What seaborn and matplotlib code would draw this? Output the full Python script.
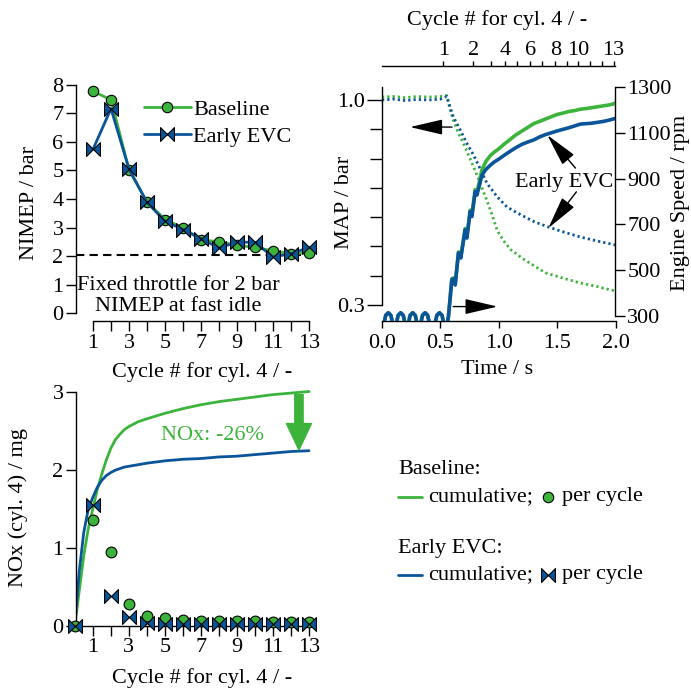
import matplotlib
matplotlib.use("Agg")
import matplotlib.pyplot as plt
from matplotlib.path import Path
import seaborn as sns

# ---------------- data ----------------
cycles = list(range(1, 14))
nimep_baseline = [7.78, 7.48, 5.03, 3.90, 3.28, 2.99, 2.57, 2.50, 2.38, 2.30, 2.18, 2.08, 2.12]
nimep_early_evc = [5.74, 7.17, 5.05, 3.88, 3.22, 2.93, 2.61, 2.28, 2.49, 2.48, 1.97, 2.08, 2.30]
nimep_target = 2.05

# manifold pressure (bar) vs time (s)
map_time_baseline = [0.0, 0.1, 0.2, 0.3, 0.4, 0.5, 0.555, 0.584, 0.61, 0.655, 0.698, 0.741,
                     0.784, 0.813, 0.856, 0.9, 0.95, 0.985, 1.04, 1.1, 1.2, 1.27, 1.4,
                     1.556, 1.7, 1.843, 1.92, 2.0]
map_baseline = [1.010, 1.012, 1.008, 1.012, 1.010, 1.012, 1.015, 0.966, 0.932, 0.886, 0.852,
                0.812, 0.772, 0.744, 0.700, 0.655, 0.600, 0.556, 0.520, 0.490, 0.460, 0.442,
                0.410, 0.391, 0.375, 0.363, 0.355, 0.348]
map_time_early_evc = [0.0, 0.1, 0.2, 0.3, 0.4, 0.5, 0.555, 0.584, 0.61, 0.67, 0.727, 0.784,
                      0.84, 0.9, 0.985, 1.07, 1.16, 1.3, 1.42, 1.55, 1.7, 1.85, 2.0]
map_early_evc = [1.000, 1.003, 0.998, 1.002, 1.000, 1.003, 1.012, 0.975, 0.943, 0.898, 0.852,
                 0.812, 0.766, 0.715, 0.670, 0.635, 0.614, 0.585, 0.567, 0.550, 0.532, 0.518,
                 0.505]

# engine speed (rpm) vs time (s): cranking part common to both runs
crank_time = [0.0, 0.018, 0.032, 0.054, 0.076, 0.090, 0.124, 0.138, 0.160, 0.182, 0.196,
              0.227, 0.241, 0.263, 0.285, 0.299, 0.333, 0.347, 0.369, 0.391, 0.405,
              0.456, 0.470, 0.492, 0.514, 0.528, 0.560]
crank_speed = [270, 270, 303, 314, 303, 270, 270, 303, 314, 303, 270,
               270, 303, 314, 303, 270, 270, 303, 314, 303, 270,
               270, 303, 314, 303, 270, 270]
run_time = [0.569, 0.598, 0.61, 0.627, 0.655, 0.675, 0.712, 0.727, 0.755, 0.77, 0.798, 0.813,
            0.856, 0.89, 0.927, 0.96, 1.0, 1.05, 1.1, 1.15, 1.2, 1.25, 1.3, 1.35, 1.4, 1.45,
            1.5, 1.55, 1.6, 1.65, 1.7, 1.75, 1.8, 1.85, 1.9, 1.95, 2.0]
speed_baseline = [297, 462, 466, 440, 580, 558, 682, 648, 762, 742, 852, 838,
                  938, 975, 1000, 1015, 1030, 1052, 1072, 1092, 1108, 1124, 1140, 1150, 1160,
                  1170, 1180, 1186, 1193, 1197, 1203, 1206, 1210, 1214, 1218, 1222, 1229]
speed_early_evc = [297, 457, 462, 435, 575, 553, 676, 640, 755, 734, 843, 828,
                   915, 940, 958, 972, 985, 1003, 1020, 1036, 1050, 1060, 1069, 1082, 1092,
                   1100, 1108, 1115, 1122, 1130, 1138, 1140, 1142, 1146, 1150, 1156, 1163]

# time at which each cycle of cylinder 4 occurs
cycle_times = [0.524, 0.781, 0.936, 1.056, 1.159, 1.27, 1.373, 1.485, 1.588, 1.682,
               1.785, 1.888, 1.983]
cycle_tick_labels = ["1", "2", "", "4", "", "6", "", "8", "", "10", "", "", "13"]

# NOx per cycle and cumulative (mg)
nox_cycles = list(range(0, 14))
nox_baseline = [0, 1.36, 0.95, 0.28, 0.13, 0.10, 0.077, 0.068, 0.062, 0.060, 0.058, 0.056,
                0.055, 0.055]
nox_early_evc = [0, 1.55, 0.385, 0.11, 0.034, 0.030, 0.028, 0.026, 0.025, 0.025, 0.024,
                 0.024, 0.024, 0.024]
cum_pos = [0, 0.25, 0.5, 0.75, 1.0, 1.25, 1.5, 1.75, 2, 2.25, 2.5, 2.75, 3, 3.5, 4, 5, 6, 7,
           8, 9, 10, 11, 12, 13]
cum_baseline = [0, 0.45, 0.90, 1.25, 1.50, 1.75, 1.95, 2.13, 2.28, 2.39, 2.46, 2.52, 2.56,
                2.62, 2.66, 2.73, 2.79, 2.84, 2.88, 2.91, 2.94, 2.97, 2.99, 3.01]
cum_early_evc = [0, 0.70, 1.20, 1.50, 1.65, 1.78, 1.87, 1.93, 1.97, 2.00, 2.02, 2.04, 2.05,
                 2.07, 2.09, 2.12, 2.14, 2.15, 2.17, 2.18, 2.20, 2.22, 2.24, 2.25]
nox_reduction_label = "NOx: -26%"

# ---------------- style ----------------
GREEN = "#3cb43c"
BLUE = "#0a5599"
sns.set_theme(style="ticks")
plt.rcParams["font.family"] = ["Liberation Serif", "DejaVu Serif"]
plt.rcParams.update({
    "font.size": 16,
    "axes.linewidth": 1.0,
    "axes.edgecolor": "black",
    "xtick.color": "black",
    "ytick.color": "black",
    "xtick.labelsize": 16,
    "ytick.labelsize": 16,
    "axes.labelsize": 16,
    "text.color": "black",
    "axes.labelcolor": "black",
})

# bow-tie marker: two triangles meeting at their tips
bowtie = Path([(-1, 1), (-1, -1), (1, 1), (1, -1), (-1, 1)],
              [Path.MOVETO, Path.LINETO, Path.LINETO, Path.LINETO, Path.CLOSEPOLY])

W, H = 691, 689
fig = plt.figure(figsize=(W / 100, H / 100), dpi=100)


def box(left, top, right, bottom):
    return [left / W, 1 - bottom / H, (right - left) / W, (bottom - top) / H]


def odd_labels(vals):
    return [str(v) if v % 2 == 1 else "" for v in vals]


# ---------------- NIMEP panel ----------------
ax1 = fig.add_axes(box(76, 79, 316, 321))
ax1.axhline(nimep_target, color="black", lw=1.5, dashes=(4, 2.5), zorder=1)
sns.lineplot(x=cycles, y=nimep_baseline, ax=ax1, color=GREEN, lw=2, marker="o",
             markersize=7.5, markerfacecolor=GREEN, markeredgecolor="black",
             markeredgewidth=0.8, label="Baseline", clip_on=False, zorder=3,
             estimator=None)
sns.lineplot(x=cycles, y=nimep_early_evc, ax=ax1, color=BLUE, lw=2, marker=bowtie,
             markersize=10, markerfacecolor=BLUE, markeredgecolor="black",
             markeredgewidth=0.8, label="Early EVC", clip_on=False, zorder=4,
             estimator=None)
ax1.set_xlim(0.056, 13.39)
ax1.set_ylim(-0.28, 8.21)
ax1.set_xticks(cycles)
ax1.set_xticklabels(odd_labels(cycles))
ax1.set_yticks(range(0, 9))
for s in ("top", "right"):
    ax1.spines[s].set_visible(False)
ax1.spines["bottom"].set_bounds(1, 13)
ax1.spines["left"].set_bounds(0, 8)
ax1.tick_params(axis="both", length=7, width=1.0, pad=2)
ax1.text(5.72, 0.60, "Fixed throttle for 2 bar\nNIMEP at fast idle", ha="center",
         va="center", linespacing=1.15)
ax1.set_ylabel("NIMEP / bar", va="center")
ax1.yaxis.set_label_coords((29 - 76) / 240, (321 - 203.5) / 242)
ax1.set_xlabel("Cycle # for cyl. 4 / -", va="center")
ax1.xaxis.set_label_coords((201.7 - 76) / 240, (321 - 372) / 242)
h, l = ax1.get_legend_handles_labels()
ax1.legend(h, l, loc="upper left", bbox_to_anchor=(144 / W, 1 - 99 / H),
           bbox_transform=fig.transFigure, frameon=False, borderpad=0,
           borderaxespad=0, handlelength=2.1, handletextpad=0.1, labelspacing=0.3,
           fontsize=16)

# ---------------- MAP / engine speed panel ----------------
ax2 = fig.add_axes(box(382, 87, 615.5, 321))
sns.lineplot(x=map_time_baseline, y=map_baseline, ax=ax2, color=GREEN, lw=2.0,
             linestyle=(0, (0.8, 1.1)), estimator=None)
sns.lineplot(x=map_time_early_evc, y=map_early_evc, ax=ax2, color=BLUE, lw=2.0,
             linestyle=(0, (0.8, 1.1)), estimator=None)
ax2.set_xlim(0, 2)
ax2.set_ylim(0.2454, 1.0444)
ax2.set_xticks([0, 0.5, 1.0, 1.5, 2.0])
ax2.set_xticklabels(["0.0", "0.5", "1.0", "1.5", "2.0"])
ax2.set_yticks([0.3, 1.0])
ax2.set_yticklabels(["0.3", "1.0"])
ax2.set_yticks([0.4, 0.5, 0.6, 0.7, 0.8, 0.9], minor=True)
ax2.tick_params(axis="y", which="major", length=11, width=1.0, pad=1)
ax2.tick_params(axis="y", which="minor", length=9, width=1.0)
ax2.tick_params(axis="x", length=5, width=1.0, pad=4)
for s in ("top", "right"):
    ax2.spines[s].set_visible(False)
ax2.spines["left"].set_bounds(0.3, 1.0444)
ax2.set_ylabel("MAP / bar", va="center")
ax2.yaxis.set_label_coords((345 - 382) / 233.5, (321 - 202) / 234)
ax2.set_xlabel("Time / s", va="center")
ax2.xaxis.set_label_coords((496.7 - 382) / 233.5, (321 - 370) / 234)

ax2r = ax2.twinx()
ax2r.plot(crank_time + run_time, crank_speed + speed_baseline, color=GREEN, lw=2.6,
          solid_joinstyle="round")
ax2r.plot(crank_time + run_time, crank_speed + speed_early_evc, color=BLUE, lw=2.6,
          solid_joinstyle="round")
ax2r.set_ylim(278, 1300)
ax2r.set_yticks(range(300, 1301, 200))
for s in ("top", "left", "bottom"):
    ax2r.spines[s].set_visible(False)
ax2r.spines["right"].set_bounds(300, 1300)
ax2r.tick_params(axis="y", length=7.5, width=1.0, pad=1)
ax2r.set_ylabel("Engine Speed / rpm", va="center", rotation=90)
ax2r.yaxis.set_label_coords((680.5 - 382) / 233.5, (321 - 203) / 234)

arrow_kw = dict(arrowstyle="-|>,head_length=1.2,head_width=0.28", color="black", lw=1.0,
                mutation_scale=17, shrinkA=0, shrinkB=0)
ax2r.annotate("", xy=(0.24, 1125), xytext=(0.60, 1125), arrowprops=arrow_kw)
ax2r.annotate("", xy=(0.99, 341), xytext=(0.61, 341), arrowprops=arrow_kw)
ax2r.text(1.562, 881, "Early EVC", ha="center", va="center")
ax2r.annotate("", xy=(1.416, 1090), xytext=(1.657, 946), arrowprops=arrow_kw)
ax2r.annotate("", xy=(1.425, 684), xytext=(1.665, 842), arrowprops=arrow_kw)

# cycle scale above the time axis
ax2t = ax2.twiny()
ax2t.set_xlim(0, 2)
ax2t.set_xticks(cycle_times)
ax2t.set_xticklabels(cycle_tick_labels)
for s in ("bottom", "left", "right"):
    ax2t.spines[s].set_visible(False)
ax2t.spines["top"].set_position(("outward", 15))
ax2t.tick_params(axis="x", length=3.5, width=1.0, pad=1)
ax2t.set_xlabel("Cycle # for cyl. 4 / -", va="center")
ax2t.xaxis.set_label_coords((496.7 - 382) / 233.5, (321 - 20) / 234)

# ---------------- NOx panel ----------------
ax3 = fig.add_axes(box(76, 388.4, 313, 626))
sns.lineplot(x=cum_pos, y=cum_baseline, ax=ax3, color=GREEN, lw=2, estimator=None)
sns.lineplot(x=cum_pos, y=cum_early_evc, ax=ax3, color=BLUE, lw=2, estimator=None)
sns.scatterplot(x=nox_cycles, y=nox_baseline, ax=ax3, color=GREEN, marker="o", s=60,
                edgecolor="black", linewidth=0.8, clip_on=False, zorder=3)
sns.scatterplot(x=nox_cycles, y=nox_early_evc, ax=ax3, color=BLUE, marker=bowtie, s=100,
                edgecolor="black", linewidth=0.8, clip_on=False, zorder=4)
ax3.set_xlim(0.07, 13.22)
ax3.set_ylim(0, 3.05)
ax3.set_xticks(cycles)
ax3.set_xticklabels(odd_labels(cycles))
ax3.set_yticks([0, 1, 2, 3])
for s in ("top", "right"):
    ax3.spines[s].set_visible(False)
ax3.spines["left"].set_bounds(0, 3)
ax3.tick_params(axis="both", length=7, width=1.0, pad=2)
ax3.set_ylabel("NOx (cyl. 4) / mg", va="center")
ax3.yaxis.set_label_coords((18.5 - 76) / 237, (626 - 508) / 237.6)
ax3.set_xlabel("Cycle # for cyl. 4 / -", va="center")
ax3.xaxis.set_label_coords((201.7 - 76) / 237, (626 - 678.3) / 237.6)
ax3.text(7.62, 2.45, nox_reduction_label, color=GREEN, ha="center", va="center")
ax3.annotate("", xy=(12.44, cum_early_evc[-1] + 0.01), xytext=(12.44, cum_baseline[-1] - 0.04),
             arrowprops=dict(arrowstyle="simple,head_length=1.9,head_width=1.8,tail_width=0.6",
                             color=GREEN, mutation_scale=10, shrinkA=0, shrinkB=0))

# ---------------- shared legend for the NOx panel ----------------
lg = fig.add_axes([0, 0, 1, 1])
lg.set_xlim(0, W)
lg.set_ylim(H, 0)
lg.axis("off")
for y0, name, col, mk, ms in ((470, "Baseline:", GREEN, "o", 7.5),
                              (548, "Early EVC:", BLUE, bowtie, 10)):
    lg.text(398, y0, name, ha="left", va="center")
    lg.plot([398, 422], [y0 + 27, y0 + 27], color=col, lw=2)
    lg.text(428, y0 + 27, "cumulative;", ha="left", va="center")
    lg.plot([548], [y0 + 27], marker=mk, markersize=ms, color=col,
            markeredgecolor="black", markeredgewidth=0.8, linestyle="none")
    lg.text(562, y0 + 27, "per cycle", ha="left", va="center")

fig.savefig("out.png", dpi=100)
